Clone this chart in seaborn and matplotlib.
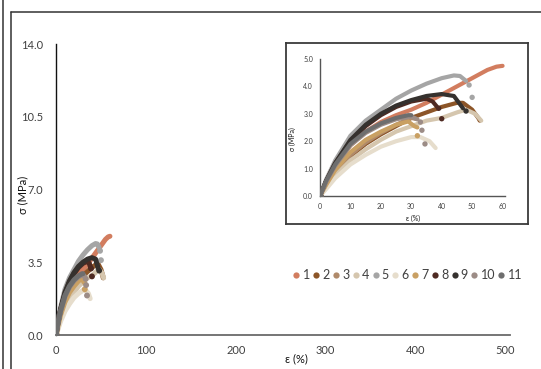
import pandas as pd
import matplotlib
matplotlib.use("Agg")
import matplotlib.pyplot as plt
import seaborn as sns
from matplotlib.lines import Line2D

# ---- data (strain %, stress MPa) ----
labels = ["1", "2", "3", "4", "5", "6", "7", "8", "9", "10", "11"]
colors = ["#D27D5F", "#8C5528", "#B08A6A", "#D5C6AE", "#A5A5A5", "#E6DDCC",
          "#C9A063", "#4E2A22", "#35312E", "#9C8C86", "#6E6E6E"]

eps_1 = [0, 2, 5, 10, 15, 20, 25, 30, 35, 40, 45, 50, 55, 58, 60]
sig_1 = [0, 0.5, 1.1, 1.85, 2.35, 2.7, 2.95, 3.15, 3.4, 3.7, 4.0, 4.3, 4.6, 4.72, 4.75]

eps_2 = [0, 2, 5, 10, 15, 20, 25, 30, 35, 40, 45, 47, 50, 52, 52.5]
sig_2 = [0, 0.35, 0.85, 1.45, 1.9, 2.25, 2.55, 2.85, 3.05, 3.25, 3.4, 3.4, 3.15, 2.85, 2.75]

eps_3 = [0, 2, 5, 10, 15, 20, 25, 30, 32]
sig_3 = [0, 0.4, 0.9, 1.5, 1.95, 2.3, 2.6, 2.85, 2.8]

eps_4 = [0, 2, 5, 10, 15, 20, 25, 30, 35, 40, 45, 48, 51, 53]
sig_4 = [0, 0.3, 0.75, 1.3, 1.7, 2.05, 2.35, 2.55, 2.75, 2.85, 3.05, 3.15, 3.0, 2.75]

eps_5 = [0, 2, 5, 10, 15, 20, 25, 30, 35, 40, 44, 46, 48]
sig_5 = [0, 0.6, 1.3, 2.2, 2.75, 3.15, 3.55, 3.85, 4.1, 4.3, 4.4, 4.38, 4.2]

eps_6 = [0, 2, 5, 10, 15, 20, 25, 30, 33, 36, 38]
sig_6 = [0, 0.25, 0.65, 1.15, 1.5, 1.8, 2.0, 2.15, 2.15, 2.0, 1.75]

eps_7 = [0, 2, 5, 10, 15, 20, 25, 29, 31, 32]
sig_7 = [0, 0.4, 0.95, 1.6, 2.05, 2.35, 2.6, 2.72, 2.55, 2.5]

eps_8 = [0, 2, 5, 10, 15, 20, 25, 30, 35, 37, 38.5]
sig_8 = [0, 0.55, 1.2, 2.0, 2.55, 2.95, 3.25, 3.45, 3.55, 3.45, 3.25]

eps_9 = [0, 2, 5, 10, 15, 20, 25, 30, 35, 40, 44, 46, 47]
sig_9 = [0, 0.55, 1.2, 2.05, 2.6, 3.0, 3.3, 3.5, 3.65, 3.72, 3.65, 3.35, 3.2]

eps_10 = [0, 2, 5, 10, 15, 20, 25, 30, 32]
sig_10 = [0, 0.5, 1.1, 1.85, 2.3, 2.6, 2.8, 2.9, 2.8]

eps_11 = [0, 2, 5, 10, 15, 20, 25, 29, 30]
sig_11 = [0, 0.55, 1.15, 1.9, 2.35, 2.65, 2.85, 2.95, 2.95]

# isolated points after failure
drop_label = ["5", "5", "7", "8", "8", "9", "10", "10", "10"]
drop_eps = [49, 50, 32, 39, 40, 48, 33, 33.5, 34.5]
drop_sig = [4.05, 3.6, 2.2, 3.2, 2.82, 3.1, 2.7, 2.4, 1.9]

all_eps = [eps_1, eps_2, eps_3, eps_4, eps_5, eps_6, eps_7, eps_8, eps_9, eps_10, eps_11]
all_sig = [sig_1, sig_2, sig_3, sig_4, sig_5, sig_6, sig_7, sig_8, sig_9, sig_10, sig_11]

curves = pd.concat([pd.DataFrame({"eps": e, "sig": s, "sample": lab})
                    for lab, e, s in zip(labels, all_eps, all_sig)], ignore_index=True)
drops = pd.DataFrame({"eps": drop_eps, "sig": drop_sig, "sample": drop_label})
palette = dict(zip(labels, colors))

sns.set_theme(style="white")
plt.rcParams["font.family"] = ["Lato", "DejaVu Sans"]

W, H = 541, 369
fig = plt.figure(figsize=(W / 100, H / 100), dpi=100)


def box(l, t, r, b):
    return [l / W, 1 - b / H, (r - l) / W, (b - t) / H]


def draw(ax, lw, ms):
    for i, lab in enumerate(labels):
        sub = curves[curves["sample"] == lab]
        sns.lineplot(data=sub, x="eps", y="sig", color=palette[lab], lw=lw,
                     sort=False, estimator=None, ax=ax, zorder=2 + i,
                     solid_capstyle="round", solid_joinstyle="round")
        dp = drops[drops["sample"] == lab]
        if len(dp):
            sns.scatterplot(data=dp, x="eps", y="sig", color=palette[lab], s=ms,
                            edgecolor="none", ax=ax, zorder=2 + i)
        ax.plot([0], [0], "o", color=palette[lab], ms=3.5, zorder=2 + i)


# main axes
ax = fig.add_axes(box(56, 44, 510, 335))
draw(ax, 3.6, 18)
ax.set_xlim(0, 505)
ax.set_ylim(0, 14)
ax.set_xticks([0, 100, 200, 300, 400, 500])
ax.set_yticks([0, 3.5, 7, 10.5, 14])
ax.set_yticklabels(["0.0", "3.5", "7.0", "10.5", "14.0"])
ax.tick_params(length=0, labelsize=8, colors="#404040")
ax.tick_params(axis="y", pad=9)
ax.tick_params(axis="x", pad=7)
ax.set_xlabel("")
ax.set_ylabel("")
for side in ["top", "right"]:
    ax.spines[side].set_visible(False)
ax.spines["left"].set_color("#111111")
ax.spines["left"].set_linewidth(1.0)
ax.spines["bottom"].set_color("#6a6a6a")
ax.spines["bottom"].set_linewidth(1.3)
ax.patch.set_alpha(0)

fig.text(23 / W, 1 - 195 / H, "σ (MPa)", rotation=90, ha="center", va="center",
         fontsize=8, color="#111111")
fig.text(296 / W, 1 - 359 / H, "ε (%)", ha="center", va="center",
         fontsize=8, color="#111111")

# inset frame
frame = fig.add_axes(box(286, 43, 528, 224))
frame.set_xticks([])
frame.set_yticks([])
for sp in frame.spines.values():
    sp.set_color("#3a3a3a")
    sp.set_linewidth(1.3)
frame.set_facecolor("white")

ins = fig.add_axes(box(320, 59, 505, 196))
draw(ins, 3.0, 15)
ins.set_xlim(0, 60.8)
ins.set_ylim(0, 5)
ins.set_xticks([0, 10, 20, 30, 40, 50, 60])
ins.set_yticks([0, 1, 2, 3, 4, 5])
ins.set_yticklabels(["0.0", "1.0", "2.0", "3.0", "4.0", "5.0"])
ins.tick_params(length=0, labelsize=5, colors="#404040", pad=5)
ins.set_xlabel("")
ins.set_ylabel("")
for side in ["top", "right"]:
    ins.spines[side].set_visible(False)
ins.spines["left"].set_color("#555555")
ins.spines["left"].set_linewidth(1.0)
ins.spines["bottom"].set_color("#555555")
ins.spines["bottom"].set_linewidth(1.0)
ins.patch.set_alpha(0)

fig.text(292 / W, 1 - 139 / H, "σ (MPa)", rotation=90, ha="center", va="center",
         fontsize=5, color="#111111")
fig.text(413 / W, 1 - 218 / H, "ε (%)", ha="center", va="center",
         fontsize=5, color="#111111")

# legend
handles = [Line2D([], [], ls="", marker="o", ms=4.5, color=c, mec="none") for c in colors]
fig.legend(handles, labels, loc="center", bbox_to_anchor=(408 / W, 1 - 275 / H),
           ncol=11, frameon=False, handlelength=0.4, handletextpad=0.3,
           columnspacing=0.3, fontsize=9, labelcolor="#404040",
           borderaxespad=0, borderpad=0)

# outer frame lines
fig.add_artist(Line2D([3 / W, 3 / W], [0, 1], color="#333333", lw=1.1))
fig.add_artist(Line2D([11 / W, 11 / W], [0, 1 - 12 / H], color="#333333", lw=1.1))
fig.add_artist(Line2D([11 / W, 1], [1 - 12 / H, 1 - 12 / H], color="#333333", lw=1.1))

fig.savefig("out.png", dpi=100)
